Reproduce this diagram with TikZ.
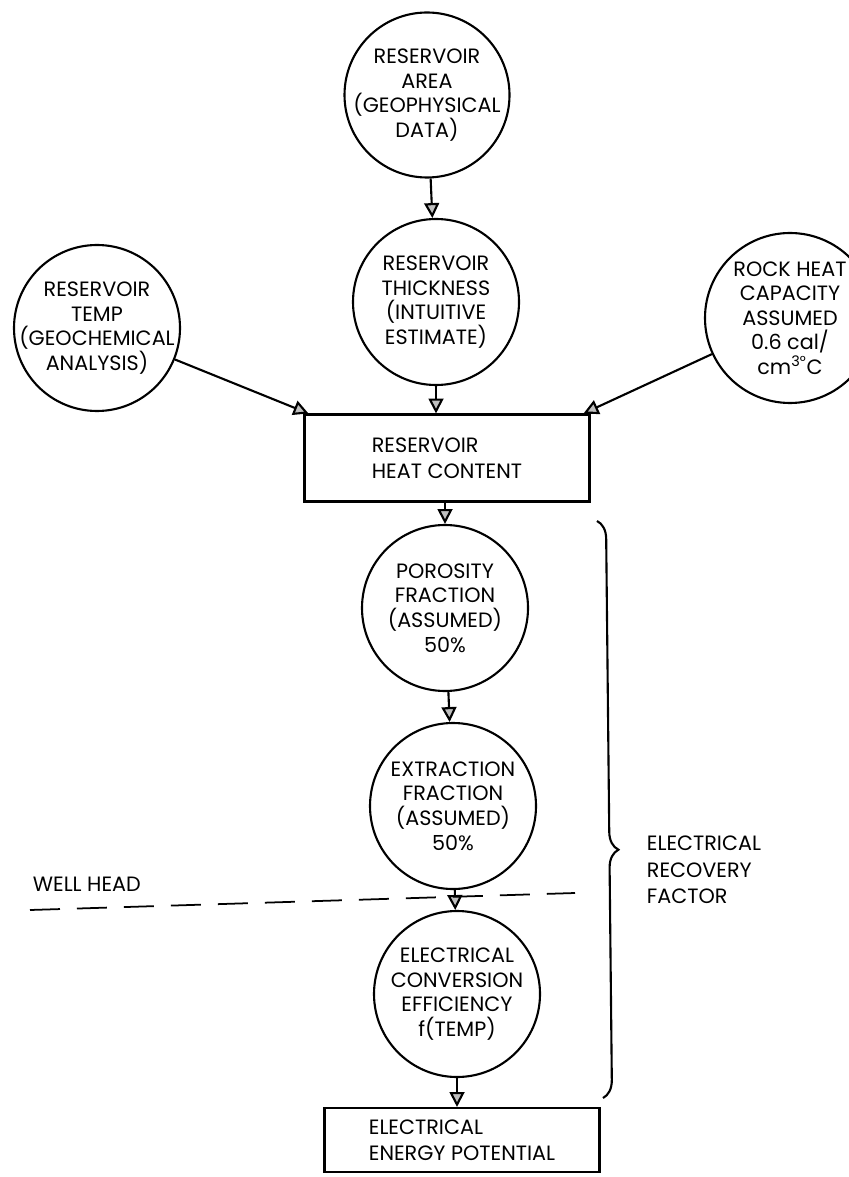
\documentclass[tikz,border=0pt]{standalone}
\usepackage{fontspec}
\setmainfont{Poppins}
\usetikzlibrary{arrows.meta,decorations.pathreplacing}
\begin{document}
\begin{tikzpicture}[x=0.2mm,y=-0.2mm,line width=1.2pt,
	>={Triangle[length=8.5pt,width=8.5pt,fill=gray!50]},
	txt/.style={align=center,font=\fontsize{11.8}{14}\selectfont},
	circ/.style={draw,circle,inner sep=0pt,minimum size=#1},
	blk/.style={draw,rectangle,align=left,font=\fontsize{11.8}{15}\selectfont}]
	\useasboundingbox (0,0) rectangle (848,1177);
	% inputs
	\node[circ=33mm,label={[txt]center:{RESERVOIR\\AREA\\(GEOPHYSICAL\\DATA)}}] (area) at (427,95) {};
	\node[circ=33.2mm,label={[txt]center:{RESERVOIR\\THICKNESS\\(INTUITIVE\\ESTIMATE)}}] (thick) at (436,302) {};
	\node[circ=33.2mm,label={[txt]center:{RESERVOIR\\TEMP\\(GEOCHEMICAL\\ANALYSIS)}}] (temp) at (97,328) {};
	\node[circ=34mm,label={[txt]center:{ROCK HEAT\\CAPACITY\\ASSUMED\\0.6 cal/\\cm\textsuperscript{3°}C}}] (rock) at (790,318) {};
	\node[blk,minimum width=57mm,minimum height=17.4mm] (heat) at (447,458) {RESERVOIR\\HEAT CONTENT};
	% recovery chain
	\node[circ=33.2mm,label={[txt]center:{POROSITY\\FRACTION\\(ASSUMED)\\50\%}}] (poro) at (445,608) {};
	\node[circ=33.2mm,label={[txt]center:{EXTRACTION\\FRACTION\\(ASSUMED)\\50\%}}] (extr) at (453,806) {};
	\node[circ=33.2mm,label={[txt]center:{ELECTRICAL\\CONVERSION\\EFFICIENCY\\f(TEMP)}}] (elec) at (457,994) {};
	\node[blk,minimum width=55mm,minimum height=12.8mm] (energy) at (462,1140) {ELECTRICAL\\ENERGY POTENTIAL};
	% connectors
	\draw[->] (area) -- (thick);
	\draw[->] (thick.south) -- (thick.south |- heat.north);
	\draw[->] (temp) -- ([xshift=1mm]heat.north west);
	\draw[->] (rock) -- ([xshift=-1.4mm]heat.north east);
	\draw[->] (heat.south -| poro.north) -- (poro.north);
	\draw[->] (poro) -- (extr);
	\draw[->] (extr) -- (elec);
	\draw[->] (elec.south) -- (elec.south |- energy.north);
	% well head
	\coordinate (wl) at (30,910);
	\coordinate (wr) at (575,893);
	\draw[line width=1pt,dash pattern=on 6mm off 3.4mm] (wl) -- (wr);
	\node[right,font=\fontsize{11.8}{14}\selectfont] (wh) at (26,884) {WELL HEAD};
	% recovery factor
	\coordinate (bt) at (597,521);
	\coordinate (bb) at (603,1098);
	\draw[decorate,decoration={brace,amplitude=3.6mm,aspect=0.57}] (bt) -- (bb);
	\node[right,align=left,font=\fontsize{11.8}{15}\selectfont] (erf) at (640,870) {ELECTRICAL\\RECOVERY\\FACTOR};
\end{tikzpicture}
\end{document}
